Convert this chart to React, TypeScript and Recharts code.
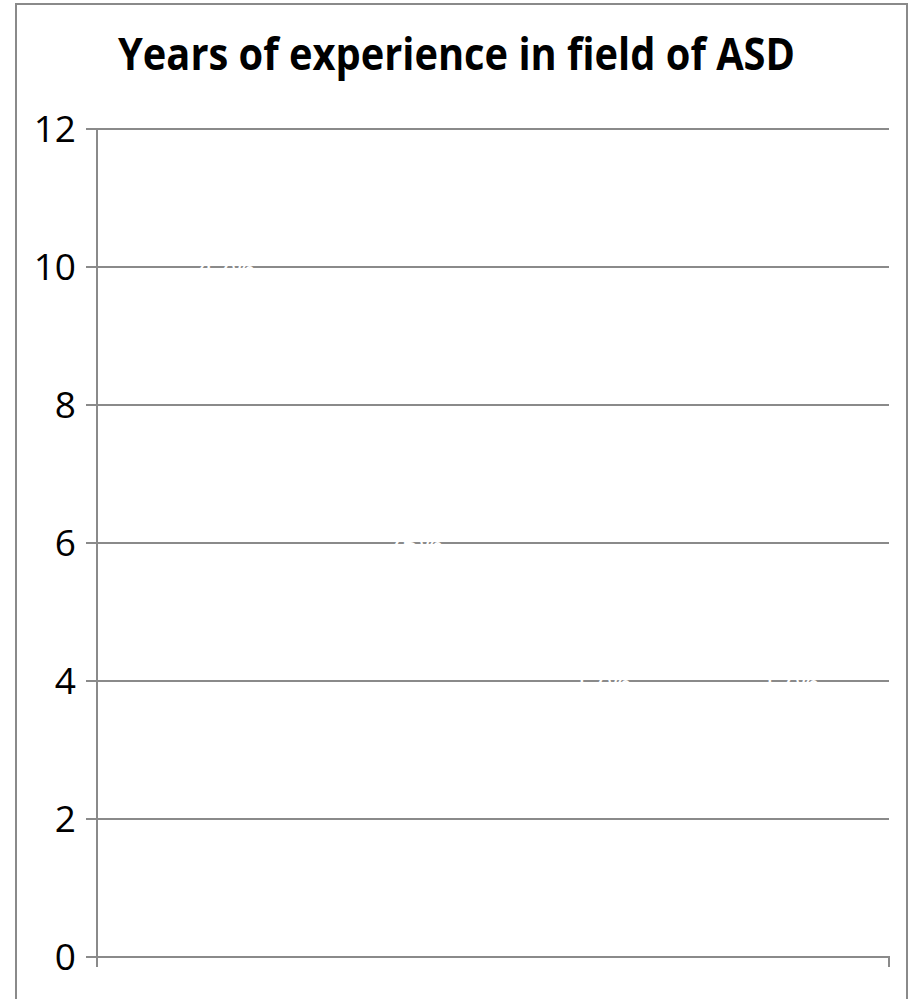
import React from "react";
import { BarChart, Bar, XAxis, YAxis, CartesianGrid, LabelList } from "recharts";

// One category, four series of years-of-experience counts
const categories = [""];
const seriesKeys = ["groupA", "groupB", "groupC", "groupD"];
const seriesValues = [10, 6, 4, 4];
const yTicks = [0, 2, 4, 6, 8, 10, 12];

const total = seriesValues.reduce((s, v) => s + v, 0);

const data = categories.map((name) => {
  const row: Record<string, string | number> = { name };
  seriesKeys.forEach((k, i) => {
    row[k] = seriesValues[i];
  });
  return row;
});

const GRID = "#8a8a8a";
const FONT = "'Open Sans', 'Noto Sans', sans-serif";
const TICK_LEN = 11;

// White value labels (share of total) centred on each bar's top edge
const renderLabel = (props: any) => {
  const { x, y, width, value } = props;
  const pct = Math.round((Number(value) / total) * 100) + "%";
  return (
    <text
      x={Number(x) + Number(width) / 2 + 15}
      y={Number(y)}
      textAnchor="middle"
      dominantBaseline="central"
      fill="#ffffff"
      fontFamily={FONT}
      fontSize={30}
    >
      {pct}
    </text>
  );
};

// Category axis marks: tick lines at both edges of the category band
const EdgeTicks = (props: any) => {
  const { x, y, width, index } = props;
  const n = categories.length;
  const band = Number(width) / n;
  const cx = Number(x);
  const top = Number(y) - 1;
  return (
    <g>
      {index === 0 && (
        <line x1={cx - band / 2} y1={top} x2={cx - band / 2} y2={top + TICK_LEN} stroke={GRID} strokeWidth={2} />
      )}
      <line x1={cx + band / 2} y1={top} x2={cx + band / 2} y2={top + TICK_LEN} stroke={GRID} strokeWidth={2} />
    </g>
  );
};

export default function App() {
  return (
    <div
      style={{
        position: "absolute",
        left: 0,
        top: 0,
        width: 917,
        height: 999,
        overflow: "hidden",
        background: "#ffffff",
      }}
    >
      <div
        style={{
          position: "absolute",
          left: 15,
          top: 3,
          width: 893,
          height: 1100,
          border: `2px solid ${GRID}`,
          boxSizing: "border-box",
        }}
      />
      <svg style={{ position: "absolute", left: 0, top: 0 }} width={917} height={100}>
        <text
          x={456.5}
          y={70}
          textAnchor="middle"
          fontFamily={FONT}
          fontWeight={700}
          fontSize={44}
          textLength={677}
          lengthAdjust="spacingAndGlyphs"
          fill="#000000"
        >
          Years of experience in field of ASD
        </text>
      </svg>
      <div style={{ position: "absolute", left: 0, top: 0 }}>
        <BarChart
          width={917}
          height={999}
          data={data}
          margin={{ top: 129, right: 28, bottom: 12, left: 0 }}
          barCategoryGap={20}
          barGap={0}
        >
          <CartesianGrid vertical={false} stroke={GRID} strokeWidth={2} />
          <XAxis
            dataKey="name"
            type="category"
            height={30}
            tickLine={false}
            tickSize={0}
            tickMargin={0}
            axisLine={{ stroke: GRID, strokeWidth: 2 }}
            tick={<EdgeTicks />}
            interval={0}
          />
          <YAxis
            domain={[0, 12]}
            ticks={yTicks}
            width={97}
            tickSize={TICK_LEN}
            tickMargin={10}
            axisLine={{ stroke: GRID, strokeWidth: 2 }}
            tickLine={{ stroke: GRID, strokeWidth: 2 }}
            tick={{ fill: "#000000", fontFamily: FONT, fontSize: 37 }}
          />
          {seriesKeys.map((k) => (
            <Bar key={k} dataKey={k} fill="none" isAnimationActive={false}>
              <LabelList dataKey={k} content={renderLabel} />
            </Bar>
          ))}
        </BarChart>
      </div>
    </div>
  );
}
